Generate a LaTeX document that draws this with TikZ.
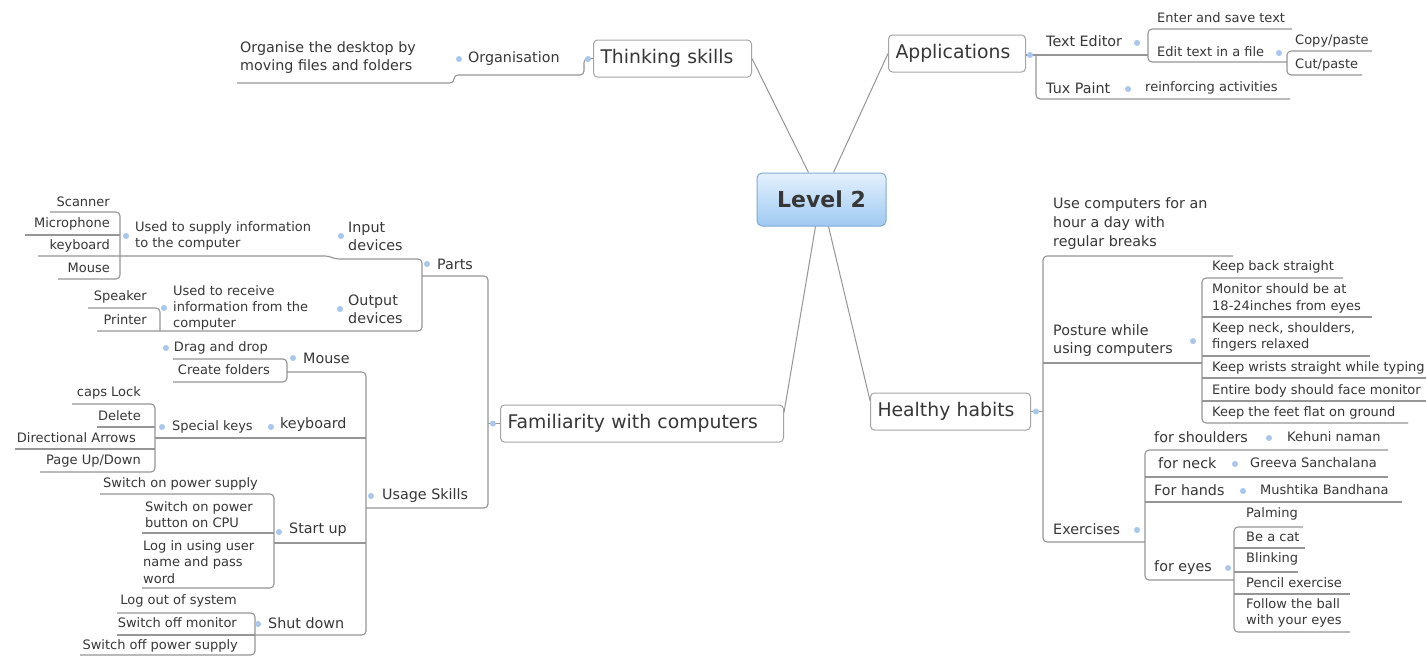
\documentclass[tikz,border=0pt]{standalone}
\usepackage{fontspec}
\setmainfont{DejaVu Sans}
\usetikzlibrary{calc,shadings}
\definecolor{txt}{RGB}{55,55,55}
\definecolor{ln}{RGB}{150,150,150}
\definecolor{dotc}{RGB}{168,198,238}
\definecolor{bx}{RGB}{165,165,165}
\definecolor{lvtop}{RGB}{228,241,253}
\definecolor{lvbot}{RGB}{158,201,242}
\definecolor{lvborder}{RGB}{130,170,210}
\tikzset{
  conn/.style={draw=ln, line width=1.1pt, rounded corners=4pt},
  spoke/.style={draw=ln, line width=1pt},
  mainbox/.style={draw=bx, line width=1pt, rounded corners=4pt, fill=white, inner xsep=7pt, inner ysep=0pt, minimum height=37pt, text=txt, font=\fontsize{18.8}{22}\selectfont, align=left},
  mid/.style={inner sep=0pt, text=txt, font=\fontsize{14.3}{18}\selectfont, align=left},
  leaf/.style={inner sep=0pt, text=txt, font=\fontsize{13}{16.3}\selectfont, align=left},
  dotn/.style={circle, fill=dotc, inner sep=0pt, minimum size=6pt},
}
\begin{document}
\begin{tikzpicture}[x=1pt,y=-1pt]
\fill[white] (0,0) rectangle (1426,657);
\useasboundingbox (0,0) rectangle (1426,657);

% ---------- central topic ----------
\node[draw=lvborder, line width=1pt, top color=lvtop, bottom color=lvbot, rounded corners=5pt, minimum width=129pt, minimum height=53pt, inner sep=0pt, font=\bfseries\fontsize{22}{26}\selectfont, text=txt] (l2) at (821.5,199.5) {Level 2};

% ---------- main topics ----------
\node[mainbox, anchor=west, text width=144pt] (ts) at (593,58.5) {Thinking skills};
\node[mainbox, anchor=west, text width=123pt] (app) at (888,53.5) {Applications};
\node[mainbox, anchor=west, text width=269pt] (fam) at (500,423.5) {Familiarity with computers};
\node[mainbox, anchor=west, text width=146pt] (hh) at (870,411.5) {Healthy habits};

\draw[spoke] ($(l2.north)+(-13,0)$) -- (ts.east);
\draw[spoke] ($(l2.north)+(12,0)$) -- (app.west);
\draw[spoke] ($(l2.south)+(-6,0)$) -- ($(fam.north east)+(0,8)$);
\draw[spoke] ($(l2.south)+(7,0)$) -- ($(hh.north west)+(0,8)$);

% ---------- Thinking skills ----------
\node[mid, anchor=west] (org) at (468,59) {Organisation};
\node[mid, anchor=west] (orgd) at (240,58) {Organise the desktop by\\moving files and folders};
\draw[conn] (ts.west) -- (584,58.5) -- (584,75) -- (454,75) -- (454,83) -- (237,83);
\node[dotn] (dts) at (588,59) {};
\node[dotn] (dorg) at (459,59) {};

% ---------- Applications ----------
\node[mid, anchor=west] (te) at (1046,41) {Text Editor};
\node[leaf, anchor=west] (ent) at (1157,18) {Enter and save text};
\node[leaf, anchor=west] (edit) at (1157,52) {Edit text in a file};
\node[leaf, anchor=west] (cp) at (1295,41) {Copy/paste};
\node[leaf, anchor=west] (cut) at (1295,65) {Cut/paste};
\node[mid, anchor=west] (tux) at (1046,88) {Tux Paint};
\node[leaf, anchor=west] (reinf) at (1145,88) {reinforcing activities};
\draw[conn] (app.east |- 0,55) -- (1148,55);
\draw[conn] (1036,55) -- (1036,99) -- (1290,99);
\draw[conn] (1292,29) -- (1148,29) -- (1148,62) -- (1287,62);
\draw[conn] (1372,51) -- (1287,51) -- (1287,75) -- (1362,75);
\node[dotn] (dapp) at (1030,55) {};
\node[dotn] (dte) at (1137,43) {};
\node[dotn] (dedit) at (1279,53) {};
\node[dotn] (dtux) at (1128,89) {};

% ---------- Familiarity with computers ----------
\draw[conn] (fam.west) -- (488,423.5);
\draw[conn] (422,276) -- (488,276) -- (488,508) -- (366,508);
\node[dotn] (dfam) at (493,423.5) {};

% Parts
\node[mid, anchor=west] (parts) at (437,264) {Parts};
\node[mid, anchor=west] (inp) at (348,236) {Input\\devices};
\node[mid, anchor=west] (outp) at (348,309) {Output\\devices};
\node[leaf, anchor=west] (usup) at (135,236) {Used to supply information\\to the computer};
\node[leaf, anchor=west] (urec) at (173,308) {Used to receive\\information from the\\computer};
\node[leaf, anchor=east] (scan) at (110,202) {Scanner};
\node[leaf, anchor=east] (mic) at (110,224) {Microphone};
\node[leaf, anchor=east] (kbd) at (110,246) {keyboard};
\node[leaf, anchor=east] (mse) at (110,268) {Mouse};
\node[leaf, anchor=east] (spk) at (147,297) {Speaker};
\node[leaf, anchor=east] (prn) at (147,320) {Printer};
\draw[conn] (38,256) -- (329,256) -- (335,259) -- (422,259) -- (422,331) -- (97,331);
\draw[conn] (50,212) -- (120,212) -- (120,279) -- (58,279);
\draw[conn] (25,235) -- (120,235);
\draw[conn] (88,308) -- (160,308) -- (160,331);
\node[dotn] (dparts) at (427,264) {};
\node[dotn] (dinp) at (341,236) {};
\node[dotn] (doutp) at (340,309) {};
\node[dotn] (dusup) at (126,236) {};
\node[dotn] (durec) at (164,308) {};

% Usage Skills
\node[mid, anchor=west] (usage) at (382,496) {Usage Skills};
\node[mid, anchor=west] (mouse) at (303,358) {Mouse};
\node[leaf, anchor=east] (dd) at (268,348) {Drag and drop};
\node[leaf, anchor=east] (cf) at (270,370) {Create folders};
\draw[conn] (173,359) -- (287,359) -- (287,382) -- (173,382);
\draw[conn] (287,372) -- (366,372) -- (366,635) -- (255,635);
\node[dotn] (ddd) at (166,348) {};
\node[dotn] (dmouse) at (293,358) {};
\node[dotn] (dusage) at (371,496) {};

\node[mid, anchor=west] (keyb) at (280,425) {keyboard};
\node[leaf, anchor=west] (spec) at (172,427) {Special keys};
\node[leaf, anchor=east] (caps) at (141,393) {caps Lock};
\node[leaf, anchor=east] (del) at (141,416) {Delete};
\node[leaf, anchor=east] (dir) at (136,438) {Directional Arrows};
\node[leaf, anchor=east] (pg) at (141,461) {Page Up/Down};
\draw[conn] (72,404) -- (155,404) -- (155,472) -- (40,472);
\draw[conn] (97,427) -- (155,427);
\draw[conn] (15,449) -- (155,449);
\draw[conn] (155,438) -- (366,438);
\node[dotn] (dspec) at (162,427) {};
\node[dotn] (dkeyb) at (271,427) {};

\node[mid, anchor=west] (start) at (289,530) {Start up};
\node[leaf, anchor=east] (sops) at (258,484) {Switch on power supply};
\node[leaf, anchor=west] (sopb) at (145,514.5) {Switch on power\\button on CPU};
\node[leaf, anchor=west] (login) at (143,562) {Log in using user\\name and pass\\word};
\draw[conn] (100,494) -- (274,494) -- (274,588) -- (142,588);
\draw[conn] (142,533) -- (274,533);
\draw[conn] (274,543) -- (366,543);
\node[dotn] (dstart) at (279,532) {};

\node[mid, anchor=west] (shut) at (268,623) {Shut down};
\node[leaf, anchor=east] (lo) at (237,601) {Log out of system};
\node[leaf, anchor=east] (som) at (237,623) {Switch off monitor};
\node[leaf, anchor=east] (sopf) at (238,646) {Switch off power supply};
\draw[conn] (117,613) -- (255,613) -- (255,655) -- (80,655);
\draw[conn] (117,635) -- (255,635);
\node[dotn] (dshut) at (258,624) {};

% ---------- Healthy habits ----------
\draw[conn] (hh.east) -- (1043,411.5);
\draw[conn] (1233,256) -- (1043,256) -- (1043,542) -- (1145,542);
\draw[conn] (1043,363) -- (1202,363);
\node[dotn] (dhh) at (1036,411.5) {};

\node[mid, anchor=west, font=\fontsize{14.3}{19}\selectfont] (usec) at (1053,224) {Use computers for an\\hour a day with\\regular breaks};
\node[mid, anchor=west] (post) at (1053,341) {Posture while\\using computers};
\node[leaf, anchor=west] (p1) at (1212,267) {Keep back straight};
\node[leaf, anchor=west] (p2) at (1212,298.5) {Monitor should be at\\18-24inches from eyes};
\node[leaf, anchor=west] (p3) at (1212,337) {Keep neck, shoulders,\\fingers relaxed};
\node[leaf, anchor=west] (p4) at (1212,368) {Keep wrists straight while typing};
\node[leaf, anchor=west] (p5) at (1212,391) {Entire body should face monitor};
\node[leaf, anchor=west] (p6) at (1212,413) {Keep the feet flat on ground};
\draw[conn] (1343,278) -- (1202,278) -- (1202,423) -- (1408,423);
\draw[conn] (1202,317) -- (1372,317);
\draw[conn] (1202,356) -- (1370,356);
\draw[conn] (1202,378) -- (1426,378);
\draw[conn] (1202,401) -- (1426,401);
\node[dotn] (dpost) at (1193,341) {};

\node[mid, anchor=west] (exer) at (1053,529) {Exercises};
\node[mid, anchor=west] (fsh) at (1154,437) {for shoulders};
\node[leaf, anchor=west] (keh) at (1287,437) {Kehuni naman};
\node[mid, anchor=west] (fnk) at (1158,463) {for neck};
\node[leaf, anchor=west] (grv) at (1250,463) {Greeva Sanchalana};
\node[mid, anchor=west] (fhd) at (1154,490) {For hands};
\node[leaf, anchor=west] (mus) at (1260,490) {Mushtika Bandhana};
\node[mid, anchor=west] (fey) at (1154,568) {for eyes};
\node[leaf, anchor=west] (e1) at (1246,514) {Palming};
\node[leaf, anchor=west] (e2) at (1246,537) {Be a cat};
\node[leaf, anchor=west] (e3) at (1246,559) {Blinking};
\node[leaf, anchor=west] (e4) at (1246,583) {Pencil exercise};
\node[leaf, anchor=west] (e5) at (1246,613) {Follow the ball\\with your eyes};
\draw[conn] (1388,450) -- (1145,450) -- (1145,580) -- (1234,580);
\draw[conn] (1145,477) -- (1388,477);
\draw[conn] (1145,502) -- (1402,502);
\draw[conn] (1303,527) -- (1234,527) -- (1234,632) -- (1350,632);
\draw[conn] (1234,548) -- (1305,548);
\draw[conn] (1234,572) -- (1298,572);
\draw[conn] (1234,594) -- (1350,594);
\node[dotn] (dexer) at (1137,530) {};
\node[dotn] (dfsh) at (1269,438) {};
\node[dotn] (dfnk) at (1235,464) {};
\node[dotn] (dfhd) at (1243,491) {};
\node[dotn] (dfey) at (1228,568) {};
\end{tikzpicture}
\end{document}
